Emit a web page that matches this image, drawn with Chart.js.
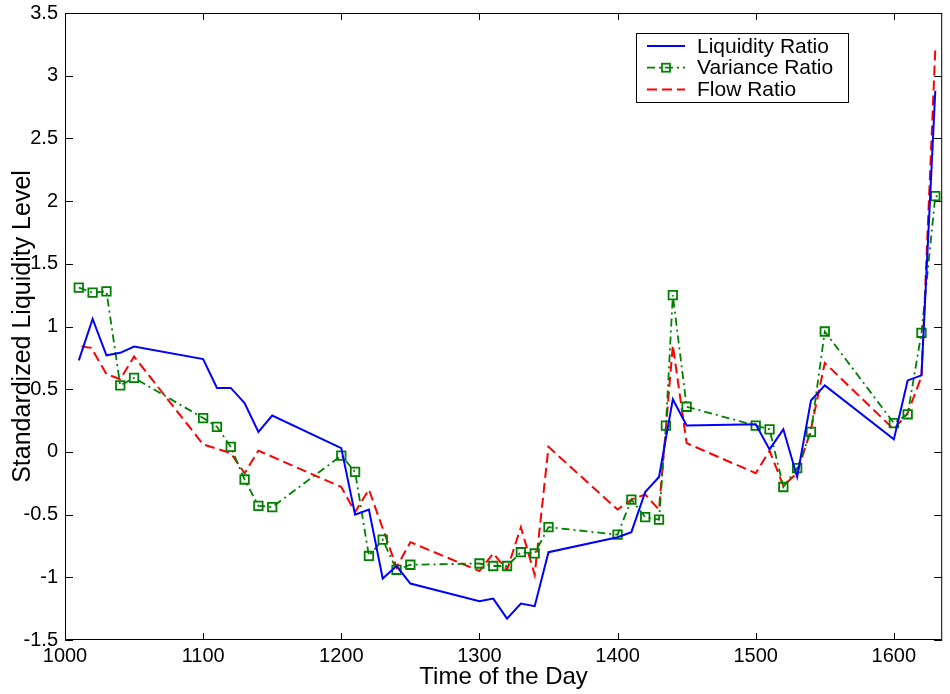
<!DOCTYPE html>
<html>
<head>
<meta charset="utf-8">
<script src="https://cdn.jsdelivr.net/npm/chart.js@4/dist/chart.umd.min.js"></script>
<style>
    html, body { margin: 0; padding: 0; background: #fff; }
    #wrap { width: 950px; height: 694px; }
</style>
</head>
<body>
<div id="wrap"><canvas id="myChart"></canvas></div>
<script>
// time of day (hhmm) and standardized levels
const liquidityTimes  = [1010, 1020, 1030, 1040, 1050, 1100, 1110, 1120, 1130, 1140, 1150, 1200, 1210, 1220, 1230, 1240, 1250, 1300, 1310, 1320, 1330, 1340, 1350, 1400, 1410, 1420, 1430, 1440, 1450, 1500, 1510, 1520, 1530, 1540, 1550, 1600, 1610, 1620, 1630];
const liquidityValues = [0.73, 1.06, 0.77, 0.79, 0.84, 0.74, 0.51, 0.51, 0.39, 0.16, 0.29, 0.03, -0.50, -0.46, -1.01, -0.91, -1.05, -1.19, -1.17, -1.33, -1.21, -1.23, -0.80, -0.68, -0.64, -0.32, -0.20, 0.42, 0.21, 0.22, 0.02, 0.18, -0.20, 0.41, 0.53, 0.10, 0.57, 0.61, 2.88];

const varianceTimes  = [1010, 1020, 1030, 1040, 1050, 1100, 1110, 1120, 1130, 1140, 1150, 1200, 1210, 1220, 1230, 1240, 1250, 1300, 1310, 1320, 1330, 1340, 1350, 1400, 1410, 1420, 1430, 1435, 1440, 1450, 1500, 1510, 1520, 1530, 1540, 1550, 1600, 1610, 1620, 1630, 1640];
const varianceValues = [1.31, 1.27, 1.28, 0.53, 0.59, 0.27, 0.20, 0.04, -0.22, -0.43, -0.44, -0.03, -0.16, -0.83, -0.70, -0.94, -0.90, -0.89, -0.91, -0.91, -0.80, -0.81, -0.60, -0.66, -0.38, -0.52, -0.54, 0.21, 1.25, 0.36, 0.21, 0.18, -0.28, -0.13, 0.16, 0.96, 0.23, 0.30, 0.95, 2.04, 2.02];

const flowTimes  = [1012, 1019, 1030, 1040, 1050, 1100, 1120, 1130, 1140, 1200, 1210, 1220, 1240, 1250, 1300, 1310, 1320, 1330, 1340, 1350, 1400, 1410, 1420, 1430, 1440, 1450, 1500, 1510, 1520, 1530, 1540, 1550, 1600, 1610, 1620, 1630];
const flowValues = [0.84, 0.83, 0.62, 0.58, 0.76, 0.06, -0.01, -0.17, 0.01, -0.28, -0.48, -0.30, -0.92, -0.72, -0.95, -0.81, -0.94, -0.60, -0.98, 0.04, -0.46, -0.38, -0.34, -0.46, 0.85, 0.07, -0.17, 0.01, -0.27, -0.17, 0.18, 0.71, 0.18, 0.31, 0.60, 3.21];

const xTickValues = [1000, 1100, 1200, 1300, 1400, 1500, 1600];
const yTickValues = [-1.5, -1, -0.5, 0, 0.5, 1, 1.5, 2, 2.5, 3, 3.5];

function toPoints(times, values) {
    return times.map((t, i) => ({ x: t, y: values[i] }));
}

const axisFont = { family: 'Arial, "Liberation Sans", sans-serif', size: 20 };

// matlab style box with inward ticks on all four sides
const boxFrame = {
    id: 'boxFrame',
    afterDraw(chart) {
        const { ctx, chartArea: a, scales: { x, y } } = chart;
        ctx.save();
        ctx.strokeStyle = '#000';
        ctx.lineWidth = 1;
        ctx.strokeRect(a.left + 0.5, a.top + 0.5, a.right - a.left - 1, a.bottom - a.top - 1);
        ctx.beginPath();
        x.ticks.forEach(t => {
            const px = Math.round(x.getPixelForValue(t.value)) + 0.5;
            ctx.moveTo(px, a.bottom); ctx.lineTo(px, a.bottom - 7);
            ctx.moveTo(px, a.top); ctx.lineTo(px, a.top + 7);
        });
        y.ticks.forEach(t => {
            const py = Math.round(y.getPixelForValue(t.value)) + 0.5;
            ctx.moveTo(a.left, py); ctx.lineTo(a.left + 8, py);
            ctx.moveTo(a.right, py); ctx.lineTo(a.right - 8, py);
        });
        ctx.stroke();
        ctx.restore();
    }
};

// legend box in the upper right of the plot
const boxLegend = {
    id: 'boxLegend',
    afterDraw(chart) {
        const { ctx, chartArea: a } = chart;
        const left = a.left + 571, top = a.top + 20, w = 212, h = 69;
        ctx.save();
        ctx.fillStyle = '#fff';
        ctx.fillRect(left, top, w, h);
        ctx.strokeStyle = '#000';
        ctx.lineWidth = 1;
        ctx.strokeRect(left + 0.5, top + 0.5, w, h);
        ctx.font = '21px Arial, "Liberation Sans", sans-serif';
        ctx.textBaseline = 'middle';
        chart.data.datasets.forEach((ds, i) => {
            const cy = top + 13 + i * 21.7;
            ctx.save();
            ctx.strokeStyle = ds.borderColor;
            ctx.lineWidth = ds.borderWidth;
            ctx.setLineDash(ds.borderDash || []);
            ctx.beginPath();
            ctx.moveTo(left + 11, cy);
            ctx.lineTo(left + 49, cy);
            ctx.stroke();
            ctx.setLineDash([]);
            if (ds.pointRadius > 0) {
                ctx.strokeRect(left + 26, cy - 4, 8, 8);
            }
            ctx.restore();
            ctx.fillStyle = '#000';
            ctx.fillText(ds.label, left + 61, cy + 1);
        });
        ctx.restore();
    }
};

const ctx = document.getElementById('myChart');

const data = {
    datasets: [{
        label: 'Liquidity Ratio',
        data: toPoints(liquidityTimes, liquidityValues),
        borderColor: '#0000ff',
        borderWidth: 2,
        pointRadius: 0
    }, {
        label: 'Variance Ratio',
        data: toPoints(varianceTimes, varianceValues),
        borderColor: '#008000',
        borderWidth: 1.8,
        borderDash: [8, 4, 2, 4],
        pointStyle: 'rect',
        pointRadius: 6,
        pointBorderWidth: 1.8,
        pointBorderColor: '#008000',
        pointBackgroundColor: 'rgba(0,0,0,0)'
    }, {
        label: 'Flow Ratio',
        data: toPoints(flowTimes, flowValues),
        borderColor: '#ff0000',
        borderWidth: 2,
        borderDash: [10, 5],
        pointRadius: 0
    }]
};

const options = {
    responsive: true,
    maintainAspectRatio: false,
    animation: false,
    layout: { padding: { top: 13, right: 4, left: 0, bottom: 0 } },
    plugins: {
        legend: { display: false },
        tooltip: { enabled: false }
    },
    scales: {
        x: {
            type: 'linear',
            min: 1000,
            max: 1635,
            grid: { display: false, drawTicks: false },
            border: { display: false },
            ticks: { color: '#000', font: axisFont, padding: 4, maxRotation: 0, callback: v => String(v) },
            title: { display: true, text: 'Time of the Day', color: '#000',
                     font: { family: 'Arial, "Liberation Sans", sans-serif', size: 24 }, padding: { top: 0, bottom: 2 } },
            afterBuildTicks: s => { s.ticks = xTickValues.map(v => ({ value: v })); },
            afterFit: s => { s.height = 54; s.paddingLeft = 0; s.paddingRight = 0; }
        },
        y: {
            min: -1.5,
            max: 3.5,
            grid: { display: false, drawTicks: false },
            border: { display: false },
            ticks: { color: '#000', font: axisFont, padding: 7, callback: v => String(v) },
            title: { display: true, text: 'Standardized Liquidity Level', color: '#000',
                     font: { family: 'Arial, "Liberation Sans", sans-serif', size: 25 }, padding: { top: 8, bottom: 0 } },
            afterBuildTicks: s => { s.ticks = yTickValues.map(v => ({ value: v })); },
            afterFit: s => { s.width = 65; s.paddingTop = 0; s.paddingBottom = 0; }
        }
    }
};

new Chart(ctx, {
    type: 'line',
    data: data,
    options: options,
    plugins: [boxFrame, boxLegend]
});
</script>
</body>
</html>
